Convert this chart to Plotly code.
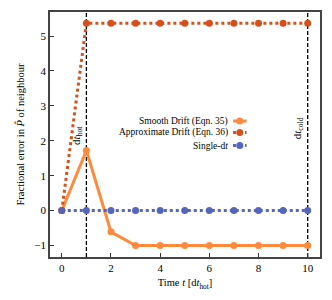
import plotly.graph_objects as go

t = list(range(0, 11))
smooth_drift = [0.0, 1.72, -0.61, -1.0, -1.0, -1.0, -1.0, -1.0, -1.0, -1.0, -1.0]
approx_drift = [0.0, 5.37, 5.37, 5.37, 5.37, 5.37, 5.37, 5.37, 5.37, 5.37, 5.37]
single_dt = [0.0] * 11
labels = ["Smooth Drift (Eqn. 35)", "Approximate Drift (Eqn. 36)", "Single-d<i>t</i>"]
colors = ["#ff8a3d", "#d4501c", "#5465bd"]
vlines = [1, 10]

FONT = "Liberation Serif"
fig = go.Figure()
fig.add_trace(go.Scatter(x=t, y=smooth_drift, mode="lines+markers", name=labels[0],
                         line=dict(color=colors[0], width=3),
                         marker=dict(size=7, color=colors[0])))
fig.add_trace(go.Scatter(x=t, y=approx_drift, mode="lines+markers", name=labels[1],
                         line=dict(color=colors[1], width=3, dash="dot"),
                         marker=dict(size=7, color=colors[1])))
fig.add_trace(go.Scatter(x=t, y=single_dt, mode="lines+markers", name=labels[2],
                         line=dict(color=colors[2], width=3, dash="dot"),
                         marker=dict(size=7, color=colors[2])))

for v in vlines:
    fig.add_vline(x=v, line=dict(color="black", width=1.3, dash="4px,2px"), layer="below")

fig.add_annotation(x=1, y=2.15, xref="x", yref="y", text="d<i>t</i><sub>hot</sub>",
                   textangle=-90, showarrow=False, xanchor="right", xshift=-1,
                   font=dict(family=FONT, size=11, color="black"))
fig.add_annotation(x=10, y=2.35, xref="x", yref="y", text="d<i>t</i><sub>cold</sub>",
                   textangle=-90, showarrow=False, xanchor="right", xshift=-1,
                   font=dict(family=FONT, size=11, color="black"))

# custom legend (text on left, sample on right)
leg_y = [0.555, 0.508, 0.455]
dashes = ["solid", "dot", "dot"]
for lab, c, yy, d in zip(labels, colors, leg_y, dashes):
    fig.add_annotation(x=0.668, y=yy, xref="paper", yref="paper", text=lab,
                       showarrow=False, xanchor="right", yanchor="middle",
                       font=dict(family=FONT, size=9.5, color="black"))
    fig.add_shape(type="line", xref="paper", yref="paper", x0=0.678, x1=0.728, y0=yy, y1=yy,
                  line=dict(color=c, width=3, dash=d))
    fig.add_shape(type="circle", xref="paper", yref="paper", xsizemode="pixel",
                  ysizemode="pixel", xanchor=0.703, yanchor=yy, x0=-3.5, x1=3.5,
                  y0=-3.5, y1=3.5, fillcolor=c, line=dict(width=0))

axis_common = dict(showgrid=False, zeroline=False, ticks="inside", ticklen=4,
                   tickwidth=1, tickcolor="#333", showline=True, linecolor="#444",
                   linewidth=1.5, mirror=True, automargin=False,
                   tickfont=dict(family=FONT, size=11, color="black"))
fig.update_xaxes(range=[-0.48, 10.5], tickvals=[0, 2, 4, 6, 8, 10],
                 title=dict(text="Time <i>t</i> [d<i>t</i><sub>hot</sub>]",
                            font=dict(family=FONT, size=10.5, color="black"), standoff=6),
                 **axis_common)
fig.update_yaxes(range=[-1.33, 5.69], tickvals=[-1, 0, 1, 2, 3, 4, 5],
                 ticktext=["\u22121", "0", "1", "2", "3", "4", "5"],
                 title=dict(text="Fractional error in <i>P\u0302</i> of neighbour",
                            font=dict(family=FONT, size=10.5, color="black"), standoff=8),
                 **axis_common)
fig.update_layout(width=332, height=300, margin=dict(l=50, r=12, t=12, b=43),
                  plot_bgcolor="white", paper_bgcolor="white", showlegend=False,
                  font=dict(family=FONT))
fig.write_html("out.html", config={"displayModeBar": False},
               post_script="document.body.style.margin='0px';")
